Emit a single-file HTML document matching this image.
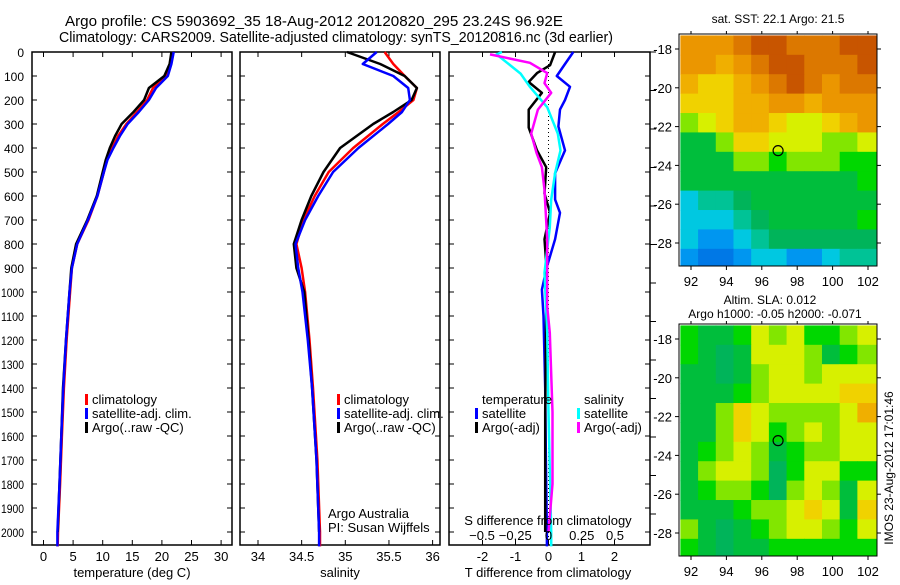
<!DOCTYPE html>
<html><head><meta charset="utf-8"><style>
body{margin:0;background:#fff}
svg{font-family:"Liberation Sans",sans-serif;font-size:13px}
</style></head><body>
<svg id="fig" width="900" height="580" viewBox="0 0 900 580">
<rect width="900" height="580" fill="#fff"/>
<text x="65" y="26" font-size="15" textLength="498" lengthAdjust="spacingAndGlyphs">Argo profile: CS 5903692_35 18-Aug-2012 20120820_295 23.24S 96.92E</text>
<text x="59" y="42" font-size="15" textLength="554" lengthAdjust="spacingAndGlyphs">Climatology: CARS2009. Satellite-adjusted climatology: synTS_20120816.nc (3d earlier)</text>
<g id="g"></g>
</svg>
<script>
// ---- profile data (depth in m) ----
const tDepth=[0,50,100,150,200,250,300,350,400,450,500,600,700,800,900,1000,1200,1400,1600,1800,2000,2060];
const tClim=[21.8,21.5,20.8,18.5,17.5,15.8,14.0,12.6,11.6,10.7,10.2,9.1,7.6,5.7,4.8,4.5,3.9,3.45,3.1,2.8,2.45,2.4];
const tSat=[22.0,21.6,21.0,19.0,17.8,16.1,14.2,12.9,11.8,10.8,10.2,9.1,7.5,5.7,4.8,4.4,3.8,3.35,3.0,2.7,2.35,2.35];
const tArgo=[21.6,21.3,20.4,17.8,17.0,15.2,13.2,12.1,11.2,10.5,10.0,9.0,7.4,5.5,4.7,4.4,3.8,3.3,3.0,2.7,2.4,2.4];
const sDepth=[0,50,100,150,200,250,300,400,500,600,700,800,900,1000,1200,1400,1700,2000,2060];
const sClim=[35.45,35.55,35.68,35.82,35.78,35.61,35.43,35.09,34.81,34.65,34.52,34.44,34.5,34.54,34.59,34.63,34.68,34.71,34.71];
const sSat=[35.36,35.2,35.55,35.72,35.74,35.65,35.49,35.15,34.86,34.69,34.54,34.43,34.46,34.51,34.57,34.62,34.67,34.70,34.70];
const sArgo=[35.02,35.4,35.68,35.82,35.76,35.55,35.32,34.94,34.75,34.61,34.5,34.41,34.44,34.53,34.58,34.62,34.67,34.70,34.70];
const dtSatDepth=[0,50,100,145,200,240,310,410,505,615,670,780,895,990,1100,1400,1700,2000,2060];
const dtSat=[0.75,0.5,0.25,0.65,0.5,0.35,0.3,0.5,0.2,0.2,0.35,0.2,-0.05,-0.2,-0.15,-0.1,-0.08,-0.05,-0.05];
const dtArgoDepth=[0,55,88,125,170,240,315,410,480,590,670,780,920,1170,1500,1800,2000];
const dtArgo=[0.2,0.05,-0.35,-0.6,-0.2,-0.6,-0.6,-0.35,-0.07,-0.12,0.05,-0.12,-0.05,-0.08,-0.1,-0.1,-0.1];
const dsSatDepth=[0,10,90,145,230,340,410,505,615,730,920,1170,1500,2000,2060];
const dsSat=[-0.35,-0.39,-0.21,-0.14,-0.01,0.07,0.09,0.05,0.02,0.01,-0.03,-0.01,0.0,0.02,0.02];
const dsArgoDepth=[10,45,88,130,170,240,340,420,480,575,780,1060,1170,1500,1800,2000];
const dsArgo=[-0.44,-0.14,-0.01,-0.03,0.02,-0.08,-0.13,-0.09,-0.05,-0.03,-0.01,-0.01,0.01,0.03,0.03,0.0];
const depthTicks=[0,100,200,300,400,500,600,700,800,900,1000,1100,1200,1300,1400,1500,1600,1700,1800,1900,2000];
const tTicks=[0,5,10,15,20,25,30];
const sTicks=[34,34.5,35,35.5,36];
const dtTicks=[-2,-1,0,1,2];
const dsTicks=[-0.5,-0.25,0,0.25,0.5];
// ---- map data (rows north->south, cols west->east) ----
const mapLons=[91.4,92.4,93.4,94.4,95.4,96.4,97.4,98.4,99.4,100.4,101.4,102.5];
const mapLats=[-17.3,-18.3,-19.3,-20.3,-21.3,-22.3,-23.3,-24.3,-25.3,-26.3,-27.3,-28.3,-29.2];
const sstGrid=[
[6,6,6,6.5,7,7,6.5,6.5,6.5,7,7],
[6,6,5.5,6,6.5,7,7,6.5,6.5,6.5,7],
[5.5,5,5,5.5,6,6.5,7,6.5,6,6.5,6.5],
[5,5,5,5.5,5.5,6,6,5.5,6,6,6],
[4,4.5,5,5.5,5.5,5,4.5,4.5,5,5.5,6],
[3,3,4,5,5,4.5,4.5,4.5,4,4,4.5],
[3,3,3,4,4,3.5,4,4,4,3.5,3.5],
[3,3,3,3,3,3,3,3,3,3,3.5],
[1.5,2,2,2.5,3,3,3,3,3,3,3],
[1.5,1.5,1.5,2,2.5,3,3,3,3,3,3.5],
[1.5,1,1,1.5,2,2.5,2.5,2.5,2.5,2.5,2.5],
[1,0.5,0.5,1,1.5,1.5,1,1,1.5,2,2]];
const slaGrid=[
[3.5,3,3,3.5,4.5,4,4.5,3.5,3.5,4,4.5],
[3.5,3,2.5,3,4.5,4.5,4.5,4,3,3.5,4],
[3,3,2.5,3,4,4.5,4.5,4,4.5,4.5,4.5],
[3,3,3,3.5,4,4.5,4.5,4.5,4.5,5,5],
[3,3,4,5,4.5,4,4,4,4,4.5,5.5],
[3,3,4,5,4.5,3.5,4,4.5,4,4.5,4.5],
[3,3.5,4,4.5,4,3,3.5,4,4,4.5,4.5],
[3,4,4.5,4.5,4,2.5,3.5,4.5,4.5,3.5,3.5],
[3,3.5,4,4,3.5,2.5,4,4.5,4,3,4.5],
[3,3,3,3.5,4,4,4.5,5,4.5,3,5],
[4,3,2.5,3,3.5,4,4.5,4.5,4,3.5,4.5],
[3.5,3,2.5,3,3,3.5,3.5,3.5,3.5,3.5,3.5]];
const mapLonTicks=[92,94,96,98,100,102];
const mapLatTicks=[-18,-20,-22,-24,-26,-28];
const argoPos=[96.92,-23.24];

const NS='http://www.w3.org/2000/svg';
const G=document.getElementById('g');
function el(tag,attrs,parent){const e=document.createElementNS(NS,tag);for(const k in attrs)e.setAttribute(k,attrs[k]);(parent||G).appendChild(e);return e;}
function txt(x,y,s,anchor,parent){const t=el('text',{x:x,y:y,'text-anchor':anchor||'start'},parent);t.textContent=s;return t;}
const Y=d=>52+0.24*d;
const TOP=52,BOT=545;
const panels=[
 {name:'temperature-panel',l:32,r:232,x:v=>43.5+5.92*v,ticks:tTicks,lab:'temperature (deg C)',lx:132},
 {name:'salinity-panel',l:240,r:440,x:v=>258+87.3*(v-34),ticks:sTicks,lab:'salinity',lx:340},
 {name:'difference-panel',l:449,r:650,x:v=>548.5+33*v,ticks:dtTicks,lab:'T difference from climatology',lx:548}
];
const xS=v=>548.5+133*v;
panels.forEach((p,i)=>{
 const g=el('g',{});
 
 
 el('rect',{x:p.l,y:TOP,width:p.r-p.l,height:BOT-TOP,fill:'none',stroke:'#000','stroke-width':1.5},g);
 depthTicks.forEach(d=>{
  el('line',{x1:p.l,x2:p.l+5,y1:Y(d),y2:Y(d),stroke:'#000'},g);
  el('line',{x1:p.r,x2:p.r-5,y1:Y(d),y2:Y(d),stroke:'#000'},g);
  if(i==0){const t=txt(24,Y(d)+5,String(d),'end',g);t.setAttribute('font-size','12');if(d>=1000){t.setAttribute('textLength','23');t.setAttribute('lengthAdjust','spacingAndGlyphs');}}
 });
 p.ticks.forEach(v=>{
  const x=p.x(v);
  el('line',{x1:x,x2:x,y1:TOP,y2:TOP+5,stroke:'#000'},g);
  el('line',{x1:x,x2:x,y1:BOT,y2:BOT-5,stroke:'#000'},g);
  const t=txt(x,561,String(v),'middle',g);
  
  
 });
 const xl=txt(p.lx,577,p.lab,'middle',g);
 
 
});
for(let y=52;y<545;y+=38.5){el('line',{x1:650,x2:656,y1:y,y2:y,stroke:'#000'});}
el('line',{x1:548.5,x2:548.5,y1:TOP,y2:BOT,stroke:'#000','stroke-dasharray':'1,3'});
function line(xs,ds,fx,color,name,w){
 const pts=xs.map((v,i)=>fx(v).toFixed(1)+','+Y(ds[i]).toFixed(1)).join(' ');
 const pl=el('polyline',{points:pts,fill:'none',stroke:color,'stroke-width':w||2.5,'stroke-linejoin':'round'});
 
 
}
const P=panels;
line(tClim,tDepth,P[0].x,'#f00','temp-climatology-line');
line(tArgo,tDepth.slice(0,21),P[0].x,'#000','temp-argo-line');
line(tSat,tDepth,P[0].x,'#00f','temp-satellite-line');
line(sClim,sDepth,P[1].x,'#f00','sal-climatology-line');
line(sArgo,sDepth.slice(0,18),P[1].x,'#000','sal-argo-line');
line(sSat,sDepth,P[1].x,'#00f','sal-satellite-line');
line(dtSat,dtSatDepth,P[2].x,'#00f','tdiff-satellite-line');
line(dtArgo,dtArgoDepth,P[2].x,'#000','tdiff-argo-line');
line(dsSat,dsSatDepth,xS,'#0ff','sdiff-satellite-line');
line(dsArgo,dsArgoDepth,xS,'#f0f','sdiff-argo-line');
dsTicks.forEach(v=>{const t=txt(xS(v),540,String(v).replace('-','−'),'middle');});
const sd=txt(548,525,'S difference from climatology','middle');


function leg(x,y,c,s,name){const g=el('g',{});el('rect',{x:x,y:y-10,width:3,height:11,fill:c},g);txt(x+7,y,s,'start',g);}
[[85,'climatology-legend-1'],[337,'climatology-legend-2']].forEach(([x,n],k)=>{
 leg(x,404,'#f00','climatology',n);
 leg(x,418,'#00f','satellite-adj. clim.','satellite-legend-'+(k+1));
 leg(x,432,'#000','Argo(..raw -QC)','argo-legend-'+(k+1));
});
txt(482,404,'temperature');txt(584,404,'salinity');
leg(475,418,'#00f','satellite','tdiff-satellite-legend');
leg(475,432,'#000','Argo(-adj)','tdiff-argo-legend');
leg(577,418,'#0ff','satellite','sdiff-satellite-legend');
leg(577,432,'#f0f','Argo(-adj)','sdiff-argo-legend');
txt(328,518,'Argo Australia');txt(328,532,'PI: Susan Wijffels');
// ---- maps ----
const stops=[[0,[0,90,220]],[1,[0,150,240]],[1.5,[0,200,225]],[2,[0,195,150]],[2.5,[0,180,90]],[3,[0,190,60]],[3.5,[0,215,0]],[4,[130,230,0]],[4.5,[215,240,0]],[5,[240,210,0]],[5.5,[240,175,0]],[6,[235,150,0]],[6.5,[220,120,0]],[7,[200,85,0]]];
function cmap(v){for(let i=1;i<stops.length;i++){if(v<=stops[i][0]){const [a,ca]=stops[i-1],[b,cb]=stops[i];const f=(v-a)/(b-a);return 'rgb('+ca.map((c,j)=>Math.round(c+(cb[j]-c)*f)).join(',')+')';}}return 'rgb(200,85,0)';}
function drawMap(grid,top,name){
 const g=el('g',{});
 
 
 const L=679,R=877,B=top+232;
 const lx=v=>691+(v-92)*17.7, ly=v=>top+15+(-18-v)*19.4;
 grid.forEach((row,r)=>row.forEach((v,c)=>{
  const x0=Math.max(L,lx(mapLons[c])),x1=Math.min(R,lx(mapLons[c+1]));
  const y0=Math.max(top,ly(mapLats[r])),y1=Math.min(B,ly(mapLats[r+1]));
  const cell=el('rect',{x:x0,y:y0,width:x1-x0+0.5,height:y1-y0+0.5,fill:cmap(v)},g);
  
  
 }));
 el('rect',{x:L,y:top,width:R-L,height:B-top,fill:'none',stroke:'#000'},g);
 mapLonTicks.forEach(v=>{el('line',{x1:lx(v),x2:lx(v),y1:B,y2:B+4,stroke:'#000'},g);el('line',{x1:lx(v),x2:lx(v),y1:top,y2:top-3,stroke:'#000'},g);txt(lx(v),B+20,String(v),'middle',g);});
 mapLatTicks.forEach(v=>{el('line',{x1:L,x2:L-4,y1:ly(v),y2:ly(v),stroke:'#000'},g);el('line',{x1:R,x2:R+4,y1:ly(v),y2:ly(v),stroke:'#000'},g);txt(672,ly(v)+5,String(v),'end',g);});
 const m=el('circle',{cx:lx(argoPos[0]),cy:ly(argoPos[1]),r:5,fill:'none',stroke:'#000','stroke-width':1.2},g);
 
 
}
drawMap(sstGrid,34,'sst-map');
txt(778,23,'sat. SST: 22.1 Argo: 21.5','middle').setAttribute('font-size','12');
drawMap(slaGrid,324,'sla-map');
txt(770,304,'Altim. SLA: 0.012','middle').setAttribute('font-size','12');
txt(775,318,'Argo h1000: -0.05 h2000: -0.071','middle').setAttribute('font-size','12');
const side=txt(0,0,'IMOS 23-Aug-2012 17:01:46','middle');
side.setAttribute('transform','translate(893,468) rotate(-90)');
side.setAttribute('font-size','12');


</script>
</body></html>
